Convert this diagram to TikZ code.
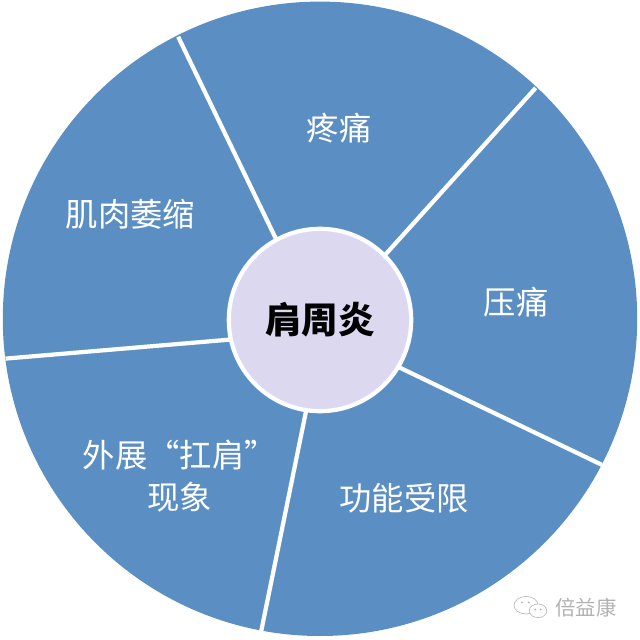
\documentclass[tikz,border=0pt]{standalone}
\usepackage{fontspec}
\newfontfamily\cjk{Noto Sans CJK SC}
\definecolor{wedge}{RGB}{91,143,195}
\definecolor{hub}{RGB}{220,216,240}
\definecolor{mark}{RGB}{178,178,178}
\begin{document}
\begin{tikzpicture}

    \tikzset{
      sector/.style={
        font=\cjk\fontsize{23}{30}\selectfont,
        text=white,
        align=center,
        inner sep=0pt,
      },
      divider/.style={
        draw=white,
        line width=3pt,
      },
    }
    \useasboundingbox (-8,-8) rectangle (8,8);
    \fill[color=wedge] (0,0.03) circle (7.93);
    % white spokes between the five sectors
    \foreach \ain/\aout in {118.5/116.6, 45/47.1, -30.9/-27.2, -98.7/-100.7, 192.3/187}
      \draw[divider] (\ain:2.3) -- (\aout:7.92);
    \draw[divider,fill=hub] (0,0) circle (2.28);
    \node[font=\cjk\bfseries\fontsize{26}{30}\selectfont] (center) at (0,0) {肩周炎};

    \node[sector] (pain) at (0.475,4.8) {疼痛};
    \node[sector] (press) at (4.9,0.45) {压痛};
    \node[sector] (limit) at (2.1,-4.45) {功能受限};
    \node[sector] (shrug) at (-3.5,-3.9) {外展“扛肩”\\现象};
    \node[sector] (atrophy) at (-4.735,2.65) {肌肉萎缩};

    % watermark
    \draw[color=mark,thin] (5.15,-7.13) ellipse (0.3 and 0.22);
    \draw[color=mark,thin,fill=white] (5.45,-7.27) ellipse (0.22 and 0.17);
    \foreach \p in {(5.05,-7.06),(5.22,-7.06),(5.38,-7.24),(5.52,-7.24)}
      \fill[color=mark] \p circle (0.025);
    \node[font=\cjk\fontsize{14.5}{16}\selectfont,text=mark] (brand) at (6.65,-7.2) {倍益康};

\end{tikzpicture}
\end{document}
